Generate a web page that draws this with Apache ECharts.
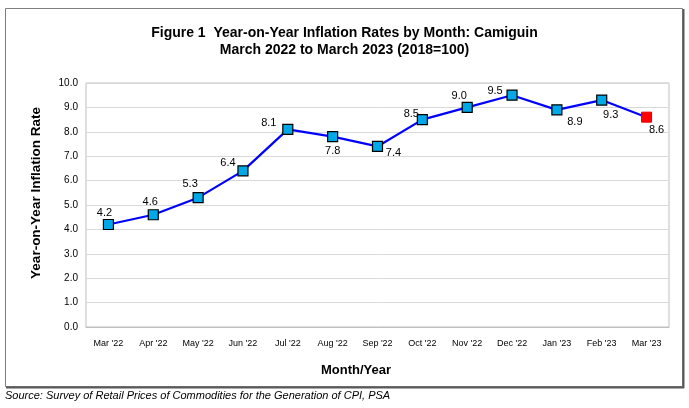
<!DOCTYPE html>
<html>
<head>
<meta charset="utf-8">
<script src="https://cdn.jsdelivr.net/npm/echarts@6/dist/echarts.min.js"></script>
<style>html,body{margin:0;padding:0;background:#fff;}#c{width:689px;height:408px;}</style>
</head>
<body>
<div id="c"></div>
<script>
const categories = ["Mar '22","Apr '22","May '22","Jun '22","Jul '22","Aug '22","Sep '22","Oct '22","Nov '22","Dec '22","Jan '23","Feb '23","Mar '23"];
const inflation = [4.2, 4.6, 5.3, 6.4, 8.1, 7.8, 7.4, 8.5, 9.0, 9.5, 8.9, 9.3, 8.6];
const yTicks = [0, 10, 1];
const labelOffsets = [[-4,-12],[-3,-13],[-8,-14],[-15,-8],[-19,-6],[0,14],[16,7],[-11,-6],[-8,-11],[-17,-4],[18,12],[9,15],[10,13]];

const chart = echarts.init(document.getElementById('c'), null, {renderer:'canvas'});
const data = inflation.map((v,i) => {
  const last = i === inflation.length - 1;
  return {
    value: v,
    itemStyle: last ? {color:'#FF0000', borderColor:'#E00000', borderWidth:1} : {color:'#00A8E8', borderColor:'#000000', borderWidth:1.2},
    label: {show:true, position:'inside', offset: labelOffsets[i], formatter: (p)=>p.value.toFixed(1)}
  };
});
chart.setOption({
  animation:false,
  backgroundColor:'#ffffff',
  title:{
    text:'Figure 1  Year-on-Year Inflation Rates by Month: Camiguin\nMarch 2022 to March 2023 (2018=100)',
    left:'center', top:20,
    textStyle:{fontFamily:'Liberation Sans, Arial', fontSize:14, fontWeight:'bold', color:'#000', lineHeight:17}
  },
  graphic:[
    {type:'rect', shape:{x:5.5,y:8.5,width:677,height:378}, style:{fill:'none', stroke:'#7f7f7f', lineWidth:1}, z:-1},
    {type:'line', shape:{x1:683.5,y1:9,x2:683.5,y2:388}, style:{stroke:'#595959', lineWidth:2}},
    {type:'line', shape:{x1:6,y1:387.5,x2:684,y2:387.5}, style:{stroke:'#595959', lineWidth:2}},
    {type:'text', left:5, top:390, style:{text:'Source: Survey of Retail Prices of Commodities for the Generation of CPI, PSA', font:'italic 11px "Liberation Sans", Arial', fill:'#000'}},
    {type:'text', x:356, y:370, style:{text:'Month/Year', font:'bold 13px "Liberation Sans", Arial', fill:'#000', align:'center', verticalAlign:'middle'}},
    {type:'text', x:36, y:193, rotation:Math.PI/2, style:{text:'Year-on-Year Inflation Rate', font:'bold 13.5px "Liberation Sans", Arial', fill:'#000', align:'center', verticalAlign:'middle'}}
  ],
  grid:{left:86, top:83, width:583, height:244, show:true, borderColor:'#bfbfbf', borderWidth:1, containLabel:false},
  xAxis:{
    type:'category', data:categories, boundaryGap:true,
    axisLine:{show:true, lineStyle:{color:'#bfbfbf'}},
    axisTick:{show:false},
    axisLabel:{fontFamily:'Liberation Sans, Arial', fontSize:9, color:'#000', margin:12, interval:0}
  },
  yAxis:{
    type:'value', min:yTicks[0], max:yTicks[1], interval:yTicks[2],
    axisLine:{show:false}, axisTick:{show:false},
    splitLine:{show:true, lineStyle:{color:'#d9d9d9', width:1}},
    axisLabel:{fontFamily:'Liberation Sans, Arial', fontSize:10, color:'#000', margin:8, formatter:(v)=>v.toFixed(1)}
  },
  series:[{
    type:'line', data:data, symbol:'rect', symbolSize:10,
    lineStyle:{color:'#0000FF', width:2.2},
    label:{fontFamily:'Liberation Sans, Arial', fontSize:11, color:'#000'},
    z:3
  }]
});
</script>
</body>
</html>
